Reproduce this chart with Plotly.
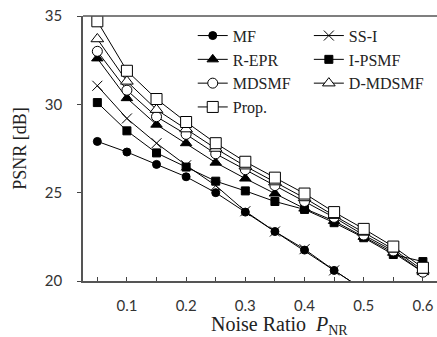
import plotly.graph_objects as go

noise_ratio = [0.05, 0.10, 0.15, 0.20, 0.25, 0.30, 0.35, 0.40, 0.45, 0.50, 0.55, 0.60]

mf      = [27.9, 27.3, 26.6, 25.9, 25.0, 23.9, 22.8, 21.75, 20.6, 19.5, 18.4, 17.3]
ss_i    = [31.05, 29.2, 27.8, 26.55, 25.4, 23.95, 22.8, 21.8, 20.6, 19.5, 18.4, 17.3]
r_epr   = [32.6, 30.35, 28.85, 27.8, 26.7, 25.8, 24.95, 24.1, 23.4, 22.5, 21.6, 20.5]
i_psmf  = [30.1, 28.5, 27.25, 26.45, 25.65, 25.1, 24.5, 24.05, 23.3, 22.45, 21.5, 21.1]
mdsmf   = [33.0, 30.8, 29.3, 28.3, 27.2, 26.3, 25.4, 24.5, 23.6, 22.6, 21.7, 20.5]
d_mdsmf = [33.7, 31.3, 29.7, 28.6, 27.5, 26.5, 25.6, 24.7, 23.7, 22.75, 21.8, 20.6]
prop    = [34.7, 31.9, 30.3, 29.0, 27.8, 26.75, 25.85, 24.95, 23.9, 22.95, 21.95, 20.75]

series = [
    ("MF", mf, "circle", "black", 8, "legend"),
    ("SS-I", ss_i, "x-thin", "black", 10, "legend2"),
    ("R-EPR", r_epr, "triangle-up", "black", 10, "legend"),
    ("I-PSMF", i_psmf, "square", "black", 8, "legend2"),
    ("MDSMF", mdsmf, "circle", "white", 10, "legend"),
    ("D-MDSMF", d_mdsmf, "triangle-up", "white", 11, "legend2"),
    ("Prop.", prop, "square", "white", 11, "legend"),
]

fig = go.Figure()
for name, vals, sym, fill, size, lg in series:
    fig.add_trace(go.Scatter(
        x=noise_ratio, y=vals, name=name, mode="lines+markers",
        line=dict(color="black", width=1),
        marker=dict(symbol=sym, color=fill, size=size,
                    line=dict(color="black", width=1)),
        legend=lg, legendgroup=name,
    ))

legend_font = dict(family="Liberation Serif", size=16, color="#222")
fig.update_layout(
    width=437, height=337,
    margin=dict(l=83, r=0, t=16, b=56),
    plot_bgcolor="white", paper_bgcolor="white",
    showlegend=True,
    legend=dict(x=0.31, y=0.99, xanchor="left", yanchor="top",
                font=legend_font, bgcolor="rgba(0,0,0,0)",
                tracegroupgap=7, traceorder="normal"),
    legend2=dict(x=0.638, y=0.99, xanchor="left", yanchor="top",
                 font=legend_font, bgcolor="rgba(0,0,0,0)",
                 tracegroupgap=7, traceorder="normal"),
    xaxis=dict(range=[0.0258, 0.6238], tick0=0.1, dtick=0.1,
               ticks="inside", ticklen=4, tickcolor="#444",
               showline=True, linecolor="#555", linewidth=1.5,
               showgrid=False, zeroline=False,
               minor=dict(dtick=0.05, tick0=0.05, ticks="inside", ticklen=4, tickcolor="#444"),
               tickfont=dict(family="Lato", size=15, color="#333"),
               ticklabelstandoff=10),
    yaxis=dict(range=[20, 35], dtick=5,
               ticks="outside", ticklen=4, tickcolor="#444",
               showline=True, linecolor="#555", linewidth=1.5,
               showgrid=False, zeroline=False,
               tickfont=dict(family="Lato", size=15, color="#333"),
               ticklabelstandoff=12,
               title=dict(text="PSNR [dB]",
                          font=dict(family="Liberation Serif", size=18, color="#222"),
                          standoff=14)),
    shapes=[dict(type="line", xref="paper", yref="paper", x0=0, x1=1, y0=1, y1=1,
                 line=dict(color="#555", width=1.5))],
    annotations=[dict(text="Noise Ratio  <i>P</i><sub>NR</sub>",
                      xref="paper", yref="paper", x=0.556, y=-0.112,
                      xanchor="center", yanchor="top", showarrow=False,
                      font=dict(family="Liberation Serif", size=20, color="#222"))],
)

fig.write_html("out.html")
